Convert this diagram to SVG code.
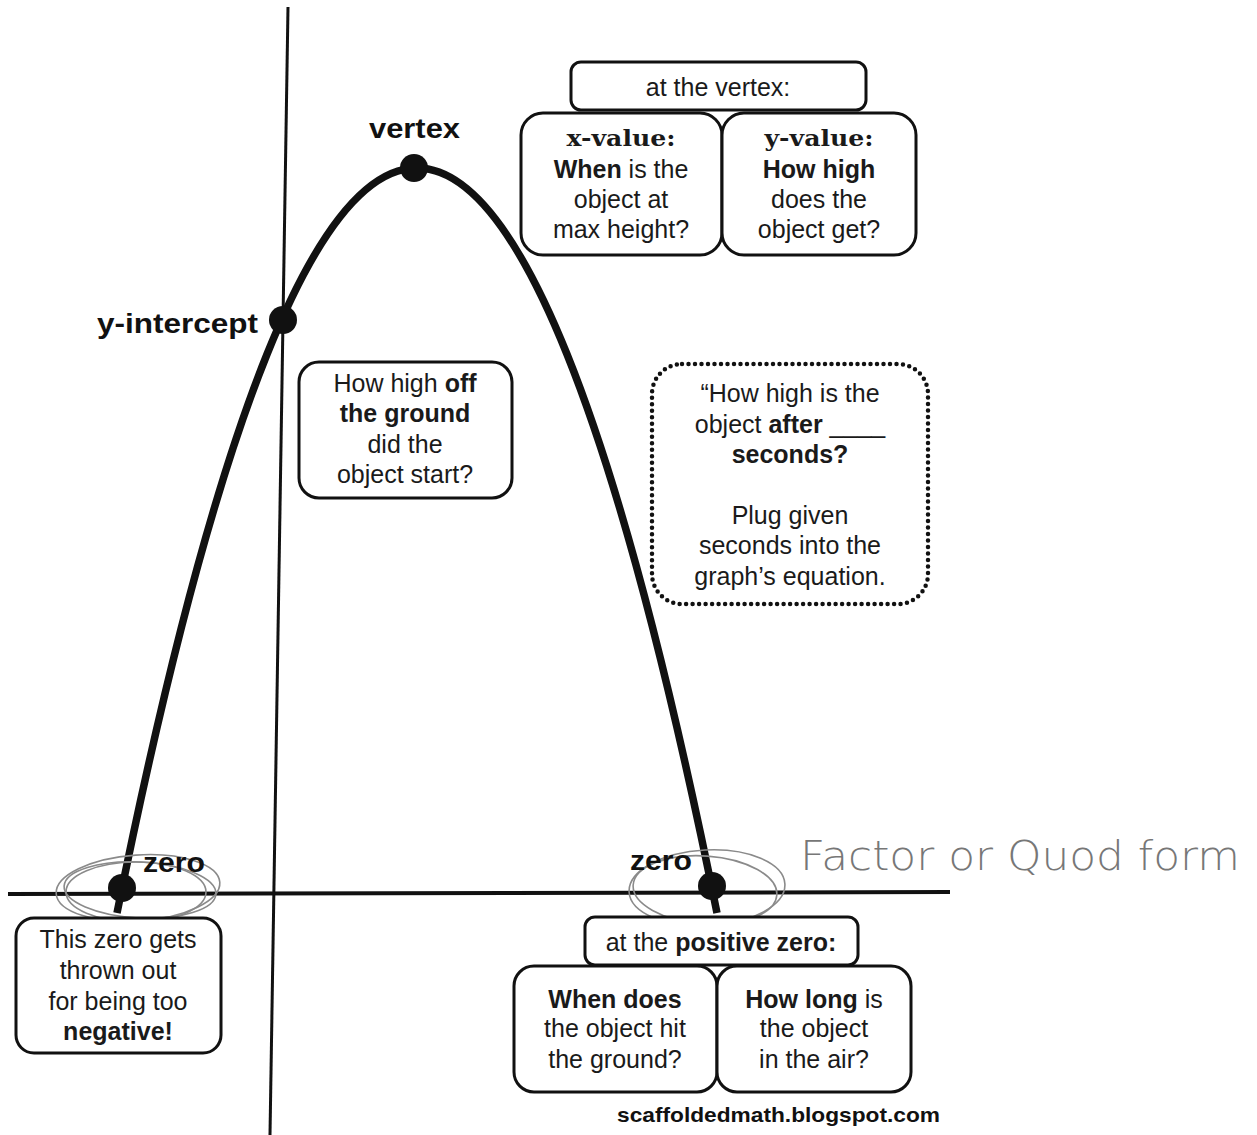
<svg xmlns="http://www.w3.org/2000/svg" width="1257" height="1135" viewBox="0 0 1257 1135">
<style>
.box{fill:#fff;stroke:#111;stroke-width:3}
.dot{fill:#111}
.t{font-family:"Liberation Sans",Arial,sans-serif;font-size:25px;fill:#1a1a1a;text-anchor:middle}
.b{font-weight:bold}
.lbl{font-family:"Liberation Sans",Arial,sans-serif;font-size:28px;font-weight:bold;fill:#111}
.serif{font-family:"DejaVu Serif",serif;font-weight:bold;font-size:22px}
.pencil{fill:none;stroke:#8a8a8a;stroke-width:1.6}
</style>
<rect width="1257" height="1135" fill="#fff"/>
<g id="connectors">
<line x1="288" y1="7" x2="270" y2="1135" stroke="#111" stroke-width="3"/>
<line x1="8" y1="894" x2="950" y2="892" stroke="#111" stroke-width="4"/>
<path d="M117,913 Q417,-577 717,913" fill="none" stroke="#111" stroke-width="7.5"/>
</g>
<g id="pencil-circles">
<ellipse class="pencil" cx="138" cy="888" rx="82" ry="33" transform="rotate(-4 138 888)"/>
<ellipse class="pencil" cx="140" cy="890" rx="76" ry="28" transform="rotate(3 140 890)"/>
<ellipse class="pencil" cx="136" cy="892" rx="70" ry="30"/>
<ellipse class="pencil" cx="707" cy="888" rx="78" ry="38" transform="rotate(-3 707 888)"/>
<ellipse class="pencil" cx="705" cy="890" rx="72" ry="34" transform="rotate(4 705 890)"/>
</g>
<g id="vertex-point"><circle class="dot" cx="414" cy="168" r="14"/><text class="lbl" x="369" y="138" textLength="91" lengthAdjust="spacingAndGlyphs">vertex</text></g>
<g id="yintercept-point"><circle class="dot" cx="283" cy="320" r="14"/><text class="lbl" x="97" y="333" textLength="161" lengthAdjust="spacingAndGlyphs">y-intercept</text></g>
<g id="zero-left"><circle class="dot" cx="122" cy="888" r="14"/><text class="lbl" x="143" y="872" font-size="25" textLength="62" lengthAdjust="spacingAndGlyphs">zero</text></g>
<g id="zero-right"><circle class="dot" cx="712" cy="886" r="14"/><text class="lbl" x="630" y="870" font-size="25" textLength="62" lengthAdjust="spacingAndGlyphs">zero</text></g>
<g id="vertex-header"><rect class="box" x="571" y="62" width="295" height="48" rx="10"/><text class="t" x="718" y="96">at the vertex:</text></g>
<g id="x-value-box"><rect class="box" x="521" y="113" width="201" height="142" rx="22"/>
<text class="t serif" x="621" y="146" textLength="109" lengthAdjust="spacingAndGlyphs">x-value:</text>
<text class="t" x="621" y="178"><tspan class="b">When</tspan> is the</text>
<text class="t" x="621" y="208">object at</text>
<text class="t" x="621" y="238">max height?</text></g>
<g id="y-value-box"><rect class="box" x="722" y="113" width="194" height="142" rx="22"/>
<text class="t serif" x="819" y="146" textLength="109" lengthAdjust="spacingAndGlyphs">y-value:</text>
<text class="t b" x="819" y="178">How high</text>
<text class="t" x="819" y="208">does the</text>
<text class="t" x="819" y="238">object get?</text></g>
<g id="start-box"><rect class="box" x="299" y="362" width="213" height="136" rx="20"/>
<text class="t" x="405" y="392">How high <tspan class="b">off</tspan></text>
<text class="t b" x="405" y="422">the ground</text>
<text class="t" x="405" y="453">did the</text>
<text class="t" x="405" y="483">object start?</text></g>
<g id="after-box"><rect x="652" y="364" width="276" height="240" rx="30" fill="#fff" stroke="#111" stroke-width="4.5" stroke-dasharray="0 6.5" stroke-linecap="round"/>
<text class="t" x="790" y="402">“How high is the</text>
<text class="t" x="790" y="433">object <tspan class="b">after</tspan> ____</text>
<text class="t b" x="790" y="463">seconds?</text>
<text class="t" x="790" y="524">Plug given</text>
<text class="t" x="790" y="554">seconds into the</text>
<text class="t" x="790" y="585">graph’s equation.</text></g>
<g id="negative-box"><rect class="box" x="16" y="918" width="205" height="135" rx="18"/>
<text class="t" x="118" y="948">This zero gets</text>
<text class="t" x="118" y="979">thrown out</text>
<text class="t" x="118" y="1010">for being too</text>
<text class="t b" x="118" y="1040">negative!</text></g>
<g id="positive-header"><rect class="box" x="585" y="917" width="273" height="48" rx="10"/><text class="t" x="721" y="951">at the <tspan class="b">positive zero:</tspan></text></g>
<g id="hit-ground-box"><rect class="box" x="514" y="966" width="203" height="126" rx="20"/>
<text class="t b" x="615" y="1008">When does</text>
<text class="t" x="615" y="1037">the object hit</text>
<text class="t" x="615" y="1068">the ground?</text></g>
<g id="air-box"><rect class="box" x="717" y="966" width="194" height="126" rx="20"/>
<text class="t" x="814" y="1008"><tspan class="b">How long</tspan> is</text>
<text class="t" x="814" y="1037">the object</text>
<text class="t" x="814" y="1068">in the air?</text></g>
<text x="617" y="1122" font-family="'Liberation Sans',Arial,sans-serif" font-size="21" font-weight="bold" fill="#111" textLength="323" lengthAdjust="spacingAndGlyphs">scaffoldedmath.blogspot.com</text>
<text x="800" y="870" font-family="'DejaVu Sans',sans-serif" font-size="40" font-weight="300" fill="#777" textLength="440" lengthAdjust="spacingAndGlyphs">Factor or Quod form</text>
</svg>
